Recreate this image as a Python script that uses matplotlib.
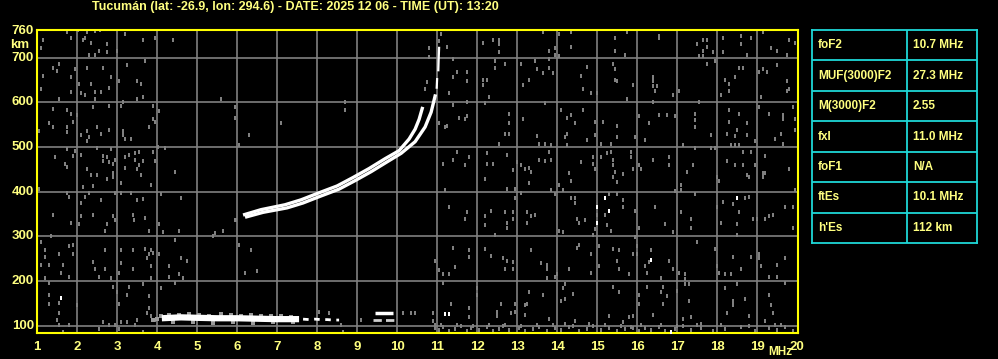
import numpy as np
import matplotlib.pyplot as plt

# header / table
title = "Tucumán (lat: -26.9, lon: 294.6) - DATE: 2025 12 06 - TIME (UT): 13:20"
param_names = ["foF2", "MUF(3000)F2", "M(3000)F2", "fxI", "foF1", "ftEs", "h'Es"]
param_values = ["10.7 MHz", "27.3 MHz", "2.55", "11.0 MHz", "N/A", "10.1 MHz", "112 km"]

freq_ticks = list(range(1, 21))
height_ticks = [100, 200, 300, 400, 500, 600, 700, 760]

# F2 traces (ordinary and extraordinary)
o_freq = [6.15, 6.6, 7.2, 7.6, 8.0, 8.5, 8.9, 9.3, 9.7, 10.05, 10.3, 10.45, 10.55, 10.64]
o_height = [348, 360, 371, 382, 396, 413, 432, 452, 474, 492, 518, 540, 562, 590]
x_freq = [6.2, 6.65, 7.25, 7.65, 8.05, 8.55, 8.95, 9.35, 9.75, 10.1, 10.45, 10.7, 10.85, 10.96]
x_height = [343, 354, 364, 375, 389, 406, 425, 445, 467, 486, 512, 545, 578, 618]
x_top1_freq = [10.99, 11.0]
x_top1_height = [633, 652]
x_top2_freq = [11.03, 11.04, 11.05]
x_top2_height = [672, 700, 722]

# E / Es traces
e_freq = [4.12, 4.6, 5.0, 5.5, 6.0, 6.5, 7.0, 7.55]
e_height = [117, 119, 118, 117, 117, 116, 115, 115]
e_tail_freq = [7.65, 7.8, 7.95, 8.1, 8.25, 8.4, 8.55]
e_tail_height = [115, 114, 115, 114, 114, 113, 113]
es_hi_freq = [9.44, 9.89]
es_hi_height = [129, 129]
es_lo_freq = [9.4, 9.55, 9.7, 9.85, 10.0]
es_lo_height = [112, 112, 112, 112, 112]
e_speck_freq = [3.9, 4.0, 4.1, 4.3, 4.55, 4.8, 5.05, 5.3, 5.6, 5.85, 6.1, 6.35, 6.6, 6.85, 7.1, 7.35, 4.4, 4.9, 5.4, 5.9, 6.4, 6.9, 7.4]
e_speck_height = [113, 116, 121, 125, 124, 126, 125, 123, 126, 124, 123, 124, 122, 121, 122, 120, 109, 108, 107, 108, 107, 108, 108]

# grey noise dots
noise_freq = [
    1.75, 1.85, 1.14, 1.10, 2.03, 2.25, 2.46, 2.58, 2.20, 2.16, 2.35, 2.74, 2.54, 2.74, 2.31, 2.46, 2.99, 3.19, 3.64, 3.94, 4.39,
    1.54, 1.39, 1.49, 1.14, 1.95, 1.85, 2.25, 2.64, 2.84, 3.24, 3.04, 3.69, 3.49, 3.59, 2.04, 2.35, 1.09, 1.85, 2.10, 2.20, 2.45,
    2.59, 2.80, 1.54, 2.44, 3.64, 3.49, 3.14, 5.59, 1.39, 1.75, 1.85, 1.90, 2.00, 1.29, 1.39, 1.75, 1.75, 1.04, 2.10, 2.25, 2.30,
    2.25, 2.50, 2.60, 2.80, 2.79, 2.39, 3.10, 3.14, 3.14, 3.19, 3.34, 3.79, 3.89, 3.94, 3.89, 4.04, 5.94, 5.94, 1.75, 1.95, 1.90,
    2.10, 1.45, 1.70, 1.75, 2.50, 2.64, 2.74, 2.64, 2.79, 2.89, 2.94, 2.84, 3.19, 3.29, 3.44, 3.54, 3.44, 3.54, 3.64, 3.94, 3.89,
    3.49, 3.59, 3.19, 3.10, 2.89, 2.89, 2.74, 2.49, 2.35, 2.25, 2.39, 2.15, 1.04, 4.03, 4.19, 4.44, 3.84, 1.75, 1.80, 2.10, 2.20,
    2.30, 2.59, 2.94, 3.10, 3.34, 3.49, 3.64, 3.39, 3.42, 3.69, 1.39, 1.85, 2.04, 2.10, 2.39, 2.74, 2.69, 2.89, 2.94, 3.79, 4.04,
    4.09, 4.59, 4.14, 4.54, 5.39, 5.44, 5.64, 5.94, 1.34, 1.09, 1.19, 1.19, 1.54, 1.80, 1.90, 1.90, 1.09, 1.29, 1.64, 1.59, 1.79,
    1.19, 2.39, 2.44, 2.54, 2.69, 2.69, 2.84, 3.09, 3.09, 3.04, 3.39, 3.39, 3.69, 3.79, 3.84, 3.89, 3.74, 3.84, 3.84, 4.04, 4.29,
    4.29, 4.44, 4.59, 4.74, 4.54, 4.64, 4.44, 1.29, 1.29, 1.29, 1.54, 1.54, 1.49, 1.54, 1.80, 2.00, 2.89, 2.99, 3.29, 3.24, 3.04,
    3.64, 3.79, 3.79, 3.74, 3.84, 3.94, 3.49, 3.44, 3.24, 3.09, 2.94, 2.64, 2.79, 2.54, 3.04, 3.64, 1.64, 4.09,
    10.79, 10.79, 10.74, 10.69, 8.69, 8.69, 7.09, 6.29, 6.04, 5.98, 6.34, 6.19, 6.49, 6.04, 10.94, 8.04, 8.29, 9.09, 8.59, 8.64,
    10.89, 10.94, 10.44, 10.89, 10.14, 10.34,
    11.09, 11.24, 11.04, 12.14, 12.39, 12.54, 12.54, 12.54, 13.64, 14.04, 14.34, 14.34, 13.79, 13.94, 13.94, 14.04, 13.79, 15.44,
    15.44, 15.74, 15.69, 11.39, 11.49, 11.74, 11.39, 11.74, 11.29, 11.74, 12.44, 12.44, 12.69, 12.14, 12.24, 12.14, 12.29, 13.09,
    13.44, 13.49, 13.64, 13.89, 13.79, 13.29, 13.14, 14.74, 14.59, 14.64, 14.84, 14.99, 15.39, 15.44, 15.44, 15.49, 15.89, 15.74,
    11.39, 11.54, 11.74, 11.69, 11.24, 11.19, 11.04, 12.19, 12.79, 12.79, 12.69, 12.79, 12.54, 13.14, 13.49, 13.54, 13.69, 13.84,
    13.69, 14.09, 14.24, 14.34, 14.44, 14.24, 14.19, 14.24, 14.64, 14.74, 14.94, 14.94, 15.14, 15.09, 15.34, 15.49, 15.49, 15.94,
    11.49, 11.14, 11.39, 11.69, 11.79, 12.24, 12.24, 12.39, 12.74, 12.89, 12.99, 13.09, 13.19, 13.29, 13.34, 13.29, 13.54, 13.69,
    13.79, 13.84, 14.04, 14.29, 14.34, 14.59, 14.89, 14.89, 14.94, 15.09, 15.24, 15.34, 15.39, 15.39, 15.44, 15.39, 15.49, 15.64,
    15.84, 15.84, 15.89, 12.19, 12.74, 12.94, 13.84, 14.14, 11.19, 11.29, 11.74, 11.69, 12.19, 12.19, 12.34, 12.44, 12.69, 12.74,
    12.74, 12.89, 12.89, 12.94, 13.24, 13.24, 13.34, 13.44, 13.09, 13.94, 14.34, 14.44, 14.44, 14.49, 14.54, 14.69, 14.94, 14.99,
    14.89, 15.19, 15.24, 15.34, 15.29, 15.49, 15.64, 15.64, 15.94, 15.94, 14.04, 14.14, 11.39, 11.79, 11.79, 11.44, 11.14, 11.29,
    11.04, 12.19, 12.34, 12.64, 12.74, 12.89, 12.69, 12.89, 13.34, 13.59, 13.74, 13.74, 13.74, 13.94, 13.99, 14.49, 14.54, 14.84,
    14.84, 15.04, 15.04, 15.39, 15.54, 15.49, 15.54, 15.89, 15.79, 14.29, 11.14, 11.99, 11.99, 11.79, 11.79, 11.34, 12.49, 12.49,
    12.59, 12.94, 12.94, 12.84, 13.19, 13.24, 13.19, 13.29, 13.64, 13.79, 14.19, 14.14, 14.39, 14.19, 14.09, 14.19, 14.44, 14.79,
    15.39, 15.54, 15.29, 15.64, 15.79, 15.89, 15.89,
    16.54, 16.54, 17.49, 17.64, 17.74, 17.74, 17.64, 17.54, 17.64, 17.89, 17.94, 18.14, 18.14, 18.59, 18.59, 18.84, 18.74, 19.14,
    19.34, 19.49, 19.74, 19.79, 19.94, 16.39, 16.39, 16.39, 16.49, 16.44, 16.89, 17.04, 16.39, 17.74, 17.54, 18.19, 18.29, 18.29,
    18.44, 18.09, 18.54, 18.64, 19.04, 19.14, 19.24, 19.49, 19.74, 19.79, 19.74, 19.09, 16.04, 16.29, 16.54, 16.74, 16.94, 16.19,
    17.44, 17.44, 17.44, 17.14, 17.44, 17.84, 17.84, 17.94, 18.29, 18.29, 18.54, 18.49, 18.44, 18.24, 18.74, 18.74, 18.94, 18.34,
    18.44, 18.54, 19.04, 19.29, 19.44, 19.59, 19.64, 19.64, 19.89, 19.94, 19.94, 19.64, 16.04, 16.09, 16.39, 16.79, 16.79, 17.24,
    17.09, 17.09, 16.94, 17.39, 17.99, 18.04, 18.24, 18.44, 18.64, 18.74, 18.79, 18.94, 18.64, 18.84, 19.19, 19.14, 19.19, 19.14,
    19.79, 19.94, 16.04, 16.44, 16.69, 16.89, 17.09, 17.34, 17.34, 17.44, 17.99, 18.09, 18.14, 18.39, 18.54, 18.49, 18.49, 18.69,
    18.79, 18.89, 18.99, 19.19, 19.29, 19.39, 19.69, 19.89, 19.89, 15.99, 15.99, 16.34, 16.29, 16.19, 16.24, 16.59, 16.79, 16.89,
    17.04, 17.19, 17.19, 17.49, 17.94, 17.99, 18.04, 18.19, 18.34, 18.39, 18.59, 18.84, 19.04, 19.04, 19.09, 19.49, 19.29, 19.49,
    19.69, 16.04, 16.04, 16.24, 16.39, 16.59, 16.64, 16.74, 16.64, 16.99, 17.19, 17.29, 17.29, 17.14, 17.34, 17.59, 18.19, 18.24,
    18.39, 18.39, 18.49, 18.69, 18.79, 19.29, 19.34, 19.39, 19.44, 19.69, 19.19,
]
noise_height = [
    757, 743, 739, 721, 761, 757, 760, 761, 745, 739, 734, 730, 716, 713, 707, 705, 715, 752, 739, 743, 739,
    687, 678, 671, 660, 674, 656, 678, 678, 656, 683, 649, 692, 647, 642, 642, 642, 631, 624, 621, 617, 624,
    624, 633, 607, 607, 613, 607, 602, 607, 586, 584, 575, 557, 571, 553, 544, 544, 533, 535, 526, 535, 522,
    513, 544, 530, 539, 593, 589, 593, 536, 526, 517, 517, 544, 562, 557, 593, 580, 589, 566, 495, 492, 481,
    483, 477, 463, 456, 497, 481, 477, 468, 466, 463, 472, 495, 477, 483, 486, 490, 472, 459, 468, 468, 488,
    450, 437, 454, 420, 441, 432, 428, 437, 437, 450, 414, 411, 407, 501, 499, 445, 416, 398, 389, 374, 389,
    398, 381, 398, 398, 398, 381, 383, 349, 336, 342, 349, 331, 327, 345, 349, 327, 313, 345, 336, 313, 327,
    396, 385, 309, 313, 300, 307, 313, 336, 300, 287, 269, 253, 260, 278, 282, 260, 237, 237, 237, 219, 210,
    206, 242, 228, 210, 269, 228, 206, 269, 240, 219, 269, 228, 273, 260, 269, 262, 251, 233, 206, 260, 233,
    210, 291, 251, 246, 215, 206, 197, 195, 170, 148, 151, 128, 114, 103, 103, 146, 186, 175, 186, 170, 148,
    193, 166, 139, 128, 121, 112, 112, 103, 108, 108, 103, 108, 103, 94, 94, 87, 87, 184,
    721, 701, 645, 629, 602, 584, 553, 526, 504, 336, 269, 219, 222, 282, 246, 130, 128, 114, 101, 87,
    110, 101, 128, 128, 128, 128,
    752, 725, 737, 734, 739, 739, 730, 712, 757, 752, 757, 725, 716, 721, 707, 703, 698, 743,
    716, 757, 707, 698, 669, 669, 656, 647, 620, 602, 692, 678, 687, 651, 651, 638, 613, 687,
    692, 674, 665, 665, 678, 651, 638, 680, 660, 629, 620, 620, 687, 674, 651, 647, 638, 607,
    594, 566, 569, 562, 548, 544, 553, 598, 575, 553, 530, 530, 508, 562, 524, 508, 508, 504,
    598, 584, 566, 571, 553, 530, 522, 504, 584, 515, 557, 526, 557, 508, 508, 548, 522, 522,
    490, 463, 472, 459, 477, 486, 463, 463, 483, 448, 466, 459, 452, 454, 445, 419, 472, 468,
    490, 472, 416, 443, 425, 466, 477, 463, 452, 477, 486, 490, 472, 459, 445, 432, 421, 439,
    490, 477, 452, 428, 407, 407, 403, 403, 403, 367, 354, 340, 345, 325, 358, 304, 354, 331,
    318, 354, 340, 385, 354, 331, 345, 349, 398, 394, 385, 387, 376, 338, 331, 336, 316, 349,
    304, 349, 325, 313, 394, 394, 381, 367, 358, 298, 313, 309, 275, 269, 255, 231, 215, 215,
    224, 273, 257, 251, 246, 242, 228, 228, 269, 240, 237, 228, 206, 210, 215, 275, 282, 260,
    219, 278, 233, 273, 269, 246, 228, 260, 215, 228, 195, 184, 170, 141, 119, 150, 132, 121,
    150, 150, 132, 128, 146, 150, 125, 175, 170, 116, 193, 184, 172, 159, 155, 105, 110, 105,
    188, 175, 123, 108, 119, 121, 96,
    748, 743, 730, 739, 739, 725, 716, 703, 703, 712, 692, 743, 712, 748, 730, 743, 707, 757,
    721, 716, 707, 739, 734, 656, 647, 636, 636, 625, 616, 625, 602, 687, 602, 651, 642, 625,
    656, 616, 678, 678, 669, 674, 669, 683, 647, 629, 625, 611, 569, 553, 571, 571, 569, 515,
    573, 560, 544, 504, 497, 526, 499, 499, 584, 557, 575, 539, 524, 530, 553, 528, 513, 504,
    504, 504, 589, 575, 517, 530, 571, 562, 589, 562, 539, 508, 459, 452, 470, 477, 459, 445,
    416, 403, 401, 459, 432, 425, 468, 459, 459, 437, 432, 459, 490, 490, 481, 441, 441, 432,
    450, 405, 318, 367, 327, 311, 354, 338, 320, 394, 367, 331, 378, 372, 354, 327, 304, 385,
    389, 338, 338, 338, 345, 349, 367, 367, 320, 278, 260, 269, 242, 233, 219, 206, 246, 228,
    219, 215, 204, 287, 273, 233, 219, 215, 215, 255, 228, 255, 260, 251, 233, 237, 210, 210,
    251, 170, 148, 188, 125, 175, 188, 166, 150, 179, 193, 193, 155, 116, 119, 105, 184, 128,
    146, 155, 193, 161, 123, 170, 146, 128, 103, 195, 110,
]

# dense low-height clutter above 11 MHz
floor_freq = [10.95, 11.05, 11.15, 11.3, 11.45, 11.6, 11.75, 11.85, 12.05, 12.25, 12.4, 12.55, 12.65, 12.8, 13.05, 13.2,
              13.4, 13.55, 13.75, 13.95, 14.1, 14.3, 14.55, 14.75, 14.9, 15.1, 15.3, 15.5, 15.7, 15.85, 16.05, 16.2,
              16.35, 16.55, 16.7, 16.95, 17.15, 17.35, 17.6, 17.9, 18.2, 18.6, 18.95, 19.3, 19.5, 19.7, 19.9,
              11.1, 11.5, 11.9, 12.3, 12.7, 13.1, 13.5, 13.9, 14.4, 14.8, 15.2, 15.6, 16.1, 16.6, 17.0, 17.5, 18.1, 18.8, 19.6]
floor_height = [96, 90, 98, 88, 93, 99, 89, 95, 91, 97, 88, 94, 99, 90, 96, 88, 93, 98, 89, 95, 91, 97, 88, 94,
                99, 90, 96, 88, 93, 98, 89, 95, 91, 97, 88, 94, 99, 90, 96, 88, 93, 98, 89, 95, 91, 97, 88,
                101, 102, 100, 101, 102, 100, 101, 102, 100, 101, 102, 100, 101, 102, 100, 101, 102, 100, 101]

# isolated bright echoes
bright_freq = [1.59, 15.19, 15.29, 14.99, 14.99, 16.34, 18.49, 16.84, 11.19, 11.29]
bright_height = [162, 385, 358, 365, 331, 248, 385, 87, 127, 127]

txt = '#ffff80'
border = '#ffff00'
gridc = '#808080'
cyan = '#1ed8d8'
plt.rcParams['font.family'] = ['Liberation Sans', 'DejaVu Sans']

fig = plt.figure(figsize=(9.98, 3.59), dpi=100, facecolor='black')
ax = fig.add_axes([37 / 998, 26 / 359, 761 / 998, 303 / 359])
ax.set_facecolor('black')
ax.set_xlim(1, 20.02)
ax.set_ylim(84, 762)

for f in freq_ticks[1:-1]:
    ax.axvline(f, color=gridc, lw=1.2, zorder=1)
for h in height_ticks[:-1]:
    ax.axhline(h, color=gridc, lw=1.2, zorder=1)

# dots are small upright rectangles, like the sounder's pixels
pix = [(-0.5, -1), (0.5, -1), (0.5, 1), (-0.5, 1)]
ax.scatter(noise_freq, noise_height, marker=pix, s=9, color='#808080', linewidths=0, zorder=2)
ax.scatter(floor_freq, floor_height, marker=pix, s=9, color='#808080', linewidths=0, zorder=2)
ax.scatter(e_speck_freq, e_speck_height, marker='s', s=6, color='#9a9a9a', linewidths=0, zorder=2)
ax.scatter(bright_freq, bright_height, marker=pix, s=9, color='white', linewidths=0, zorder=3)

ax.plot(o_freq, o_height, color='white', lw=2.4, solid_capstyle='butt', zorder=4)
ax.plot(x_freq, x_height, color='white', lw=2.4, solid_capstyle='butt', zorder=4)
ax.plot(x_top1_freq, x_top1_height, color='white', lw=1.6, zorder=4)
ax.plot(x_top2_freq, x_top2_height, color='white', lw=1.6, zorder=4)

ax.plot(e_freq, e_height, color='white', lw=4.5, solid_capstyle='butt', zorder=4)
ax.plot(e_tail_freq, e_tail_height, color='white', lw=2, ls=(0, (2, 2)), zorder=4)
ax.plot(es_hi_freq, es_hi_height, color='white', lw=2.5, solid_capstyle='butt', zorder=4)
ax.plot(es_lo_freq, es_lo_height, color='#cfcfcf', lw=2, ls=(0, (3, 1.5)), zorder=4)

for s in ax.spines.values():
    s.set_color(border)
    s.set_linewidth(1.5)
ax.set_xticks([])
ax.set_yticks([])

# axis labels drawn as text just outside the frame
for f in freq_ticks:
    ax.text(f, -0.045, str(f), transform=ax.get_xaxis_transform(), ha='center', va='center',
            color=txt, fontsize=9.5, fontweight='bold')
for h in height_ticks:
    ax.text(-0.004, h, str(h), transform=ax.get_yaxis_transform(), ha='right', va='center',
            color=txt, fontsize=9.5, fontweight='bold')
ax.text(-0.01, 0.952, 'km', transform=ax.transAxes, ha='right', va='center',
        color=txt, fontsize=9.5, fontweight='bold')
fig.text(780 / 998, 1 - 352 / 359, 'MHz', ha='center', va='center',
         color=txt, fontsize=8.5, fontweight='bold')

fig.text(295 / 998, 1 - 7 / 359, title, ha='center', va='center', color=txt, fontsize=9, fontweight='bold')

# parameter table
tab = fig.add_axes([812 / 998, (359 - 243) / 359, 165 / 998, 213 / 359])
tab.set_facecolor('black')
tab.set_xlim(0, 165)
tab.set_ylim(len(param_names), 0)
tab.set_xticks([])
tab.set_yticks([])
for s in tab.spines.values():
    s.set_color(cyan)
    s.set_linewidth(1.3)
tab.axvline(95, color=cyan, lw=1.3)
for i in range(1, len(param_names)):
    tab.axhline(i, color=cyan, lw=1.3)
for i, (n, v) in enumerate(zip(param_names, param_values)):
    tab.text(6, i + 0.5, n, ha='left', va='center', color=txt, fontsize=8.5, fontweight='bold')
    tab.text(101, i + 0.5, v, ha='left', va='center', color=txt, fontsize=8.5, fontweight='bold')

fig.savefig('out.png', dpi=100, facecolor='black')
